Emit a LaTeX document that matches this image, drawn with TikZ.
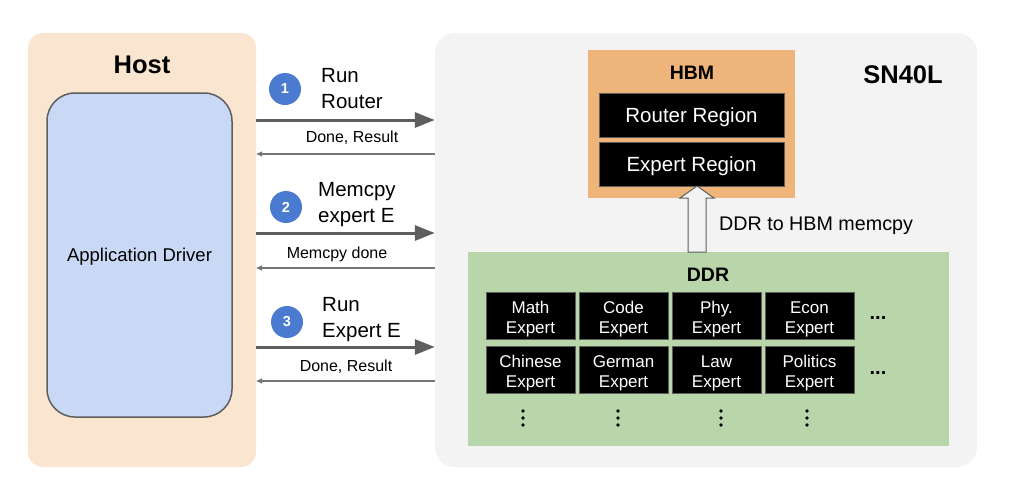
\documentclass[tikz,border=0pt]{standalone}
\usepackage{fontspec}
\setmainfont{Liberation Sans}
\usetikzlibrary{arrows.meta, calc, positioning}

\definecolor{hostbg}{HTML}{FAE5D0}
\definecolor{appbg}{HTML}{C9D9F5}
\definecolor{chipbg}{HTML}{F3F3F3}
\definecolor{hbmbg}{HTML}{EEB479}
\definecolor{ddrbg}{HTML}{B8D6A9}
\definecolor{stepblue}{HTML}{4A7BD0}
\definecolor{linegray}{HTML}{5E5E5E}

\newcommand{\twoline}[2]{\raisebox{-4pt}[\height][\depth]{\begin{tabular}{@{}c@{}}#1\\#2\end{tabular}}}

\begin{document}
\begin{tikzpicture}[x=1pt, y=-1pt,
	panel/.style={inner sep=0pt, anchor=center},
	title/.style={font=\fontsize{19.5}{22}\selectfont\bfseries},
	region/.style={draw=linegray, line width=1pt, fill=black, text=white, minimum width=185pt, minimum height=44pt, inner sep=0pt, text height=14.5pt, text depth=0pt, font=\fontsize{20.5}{22}\selectfont},
	expertbox/.style={draw=linegray, line width=1pt, fill=black, text=white, minimum width=89pt, minimum height=47pt, inner sep=0pt, font=\fontsize{17}{20}\selectfont},
	stepnum/.style={circle, fill=stepblue, text=white, minimum size=32pt, inner sep=0pt, font=\fontsize{14.5}{16}\selectfont\bfseries},
	steptext/.style={anchor=west, align=left, inner sep=0pt, font=\fontsize{20.5}{26}\selectfont},
	replytext/.style={inner sep=0pt, font=\fontsize{16}{18}\selectfont},
	moredots/.style={font=\fontsize{20}{22}\selectfont\bfseries, inner sep=0pt, anchor=base},
	request/.style={draw=linegray, line width=3pt, -{Triangle[length=20pt,width=15pt]}},
	reply/.style={draw=linegray!85, line width=1.4pt, -{Triangle[length=6pt,width=5pt]}}]
	\useasboundingbox (0,0) rectangle (1024,501);
	
	% host side
	\node[panel, fill=hostbg, rounded corners=15pt, minimum width=228pt, minimum height=434pt] (host) at (142,250) {};
	\node[title, font=\fontsize{25.5}{28}\selectfont\bfseries] (hostlbl) at (142,65) {Host};
	\node[panel, fill=appbg, draw=linegray, line width=1.5pt, rounded corners=28pt, minimum width=185pt, minimum height=324pt, text height=13pt, text depth=0pt, font=\fontsize{18.5}{22}\selectfont] (app) at (139.5,255) {Application Driver};
	
	% chip
	\node[panel, fill=chipbg, rounded corners=20pt, minimum width=542pt, minimum height=434pt] (chip) at (706,250) {};
	\node[title, font=\fontsize{25.5}{28}\selectfont\bfseries] (chiplbl) at (903,75) {SN40L};
	
	% HBM
	\node[panel, fill=hbmbg, minimum width=207pt, minimum height=148pt] (hbm) at (691.5,124) {};
	\node[title] (hbmlbl) at (692,73) {HBM};
	\node[region] (routreg) at (691.5,115) {Router Region};
	\node[region] (expreg) at (691.5,164) {Expert Region};
	
	% DDR
	\node[panel, fill=ddrbg, minimum width=481pt, minimum height=194pt] (ddr) at (708.5,349) {};
	\node[title] (ddrlbl) at (708,275) {DDR};
	\foreach \name [count=\i] in {Math,Code,Phy.,Econ}
		\node[expertbox] (ea\i) at ({530.5+93*(\i-1)},315.5) {\twoline{\name}{Expert}};
	\foreach \name [count=\i] in {Chinese,German,Law,Politics}
		\node[expertbox] (eb\i) at ({530.5+93*(\i-1)},369.5) {\twoline{\name}{Expert}};
	\node[moredots] (hdotsa) at (878,319) {...};
	\node[moredots] (hdotsb) at (878,374) {...};
	\foreach \xx in {523,618,721,807}
		\foreach \yy in {411,418,425}
			\fill (\xx,\yy) circle (1.8);
	
	% DDR to HBM
	\coordinate (up) at (697,252);
	\draw[linegray, line width=1pt, fill=chipbg]
		($(up)+(-9,0)$) -- ($(up)+(-9,-54)$) -- ($(up)+(-17,-54)$) -- ($(up)+(0,-66)$)
		-- ($(up)+(17,-54)$) -- ($(up)+(9,-54)$) -- ($(up)+(9,0)$) -- cycle;
	\node[anchor=west, inner sep=0pt, font=\fontsize{19.7}{22}\selectfont] (memcpylbl) at (719,226) {DDR to HBM memcpy};
	
	% steps
	\coordinate (s1) at (0,120);
	\coordinate (r1) at (0,154);
	\coordinate (s2) at (0,233);
	\coordinate (r2) at (0,268);
	\coordinate (s3) at (0,347);
	\coordinate (r3) at (0,381);
	\draw[request] (host.east |- s1) -- (chip.west |- s1);
	\draw[reply] (chip.west |- r1) -- (host.east |- r1);
	\draw[request] (host.east |- s2) -- (chip.west |- s2);
	\draw[reply] (chip.west |- r2) -- (host.east |- r2);
	\draw[request] (host.east |- s3) -- (chip.west |- s3);
	\draw[reply] (chip.west |- r3) -- (host.east |- r3);
	
	\node[stepnum] (n1) at (285,89) {1};
	\node[steptext] (t1) at (321,89) {Run\\Router};
	\node[replytext] (d1) at (352,138) {Done, Result};
	\node[stepnum] (n2) at (286,207) {2};
	\node[steptext] (t2) at (318,205) {Memcpy\\expert E};
	\node[replytext] (d2) at (337,254) {Memcpy done};
	\node[stepnum] (n3) at (287,322) {3};
	\node[steptext] (t3) at (322,320) {Run\\Expert E};
	\node[replytext] (d3) at (346,367) {Done, Result};
\end{tikzpicture}
\end{document}
